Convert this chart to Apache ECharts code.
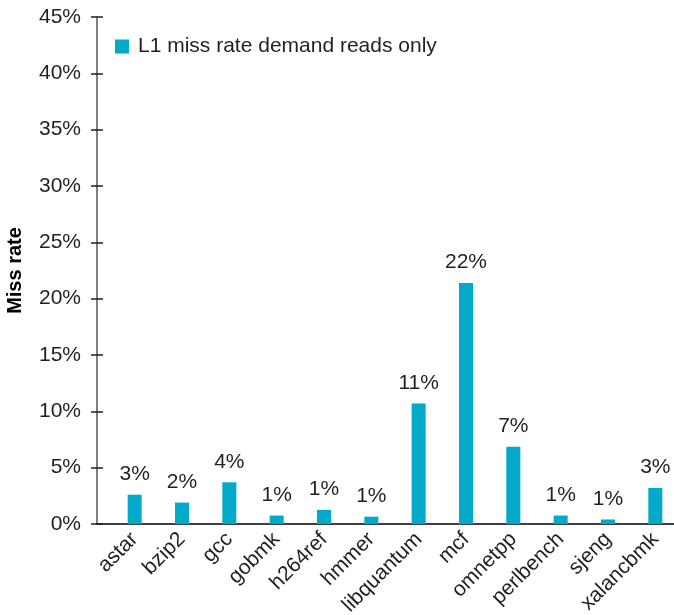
<!DOCTYPE html>
<html>
<head>
<meta charset="utf-8">
<script src="https://cdn.jsdelivr.net/npm/echarts@6/dist/echarts.min.js"></script>
<style>
html,body{margin:0;padding:0;background:#fff;}
#chart{width:674px;height:615px;}
</style>
</head>
<body>
<div id="chart"></div>
<script>
const categories = ['astar','bzip2','gcc','gobmk','h264ref','hmmer','libquantum','mcf','omnetpp','perlbench','sjeng','xalancbmk'];
const missRate = [2.6, 1.9, 3.7, 0.75, 1.25, 0.65, 10.7, 21.4, 6.85, 0.75, 0.4, 3.2];
const valueLabels = ['3%','2%','4%','1%','1%','1%','11%','22%','7%','1%','1%','3%'];
const seriesName = 'L1 miss rate demand reads only';
const yTitle = 'Miss rate';

const FONT = '"Liberation Sans", Arial, sans-serif';
const TXT = '#231F20';
const BAR = '#01AAC8';

const chart = echarts.init(document.getElementById('chart'), null, {renderer:'canvas'});
chart.setOption({
  animation: false,
  textStyle: {fontFamily: FONT, color: TXT},
  legend: {
    data: [seriesName],
    left: 110, top: 31,
    icon: 'rect', itemWidth: 14, itemHeight: 14, itemGap: 10,
    textStyle: {fontSize: 21, color: TXT, fontFamily: FONT, padding: [0,0,0,4]}
  },
  grid: [
    {left: 97, right: 0, top: 17, bottom: 91, outerBoundsMode: 'none', containLabel: false},
    {left: 111, right: -5, top: 17, bottom: 91, outerBoundsMode: 'none', containLabel: false}
  ],
  xAxis: [
    {gridIndex: 0, type: 'category', data: [''],
     axisLine: {show: true, lineStyle: {color: '#000', width: 1.5}},
     axisTick: {show: false}, axisLabel: {show: false}, splitLine: {show: false}},
    {gridIndex: 1, type: 'category', data: categories,
     axisLine: {show: false}, axisTick: {show: false},
     axisLabel: {rotate: 45, fontSize: 21, color: TXT, fontFamily: FONT, margin: 12, interval: 0}}
  ],
  yAxis: [
    {gridIndex: 0, type: 'value', position: 'left', min: 0, max: 45, interval: 5,
     name: yTitle, nameLocation: 'middle', nameGap: 72,
     nameTextStyle: {fontSize: 20, fontWeight: 'bold', color: '#000', fontFamily: FONT},
     axisLine: {show: true, lineStyle: {color: '#555', width: 1.5}},
     axisTick: {show: true, inside: false, length: 6, lineStyle: {color: '#222', width: 1.5}},
     axisLabel: {formatter: '{value}%', fontSize: 21, color: TXT, fontFamily: FONT, margin: 16},
     splitLine: {show: false}},
    {gridIndex: 0, type: 'value', position: 'left', min: 0, max: 45, interval: 5,
     axisLine: {show: false},
     axisTick: {show: true, inside: true, length: 6, lineStyle: {color: '#222', width: 1.5}},
     axisLabel: {show: false}, splitLine: {show: false}},
    {gridIndex: 1, type: 'value', min: 0, max: 45, interval: 5, show: false}
  ],
  series: [{
    name: seriesName,
    type: 'bar',
    xAxisIndex: 1, yAxisIndex: 2,
    data: missRate,
    barWidth: 14,
    itemStyle: {color: BAR},
    label: {show: true, position: 'top', distance: 10, fontSize: 21, color: TXT, fontFamily: FONT,
      formatter: p => valueLabels[p.dataIndex]}
  }]
});
</script>
</body>
</html>
